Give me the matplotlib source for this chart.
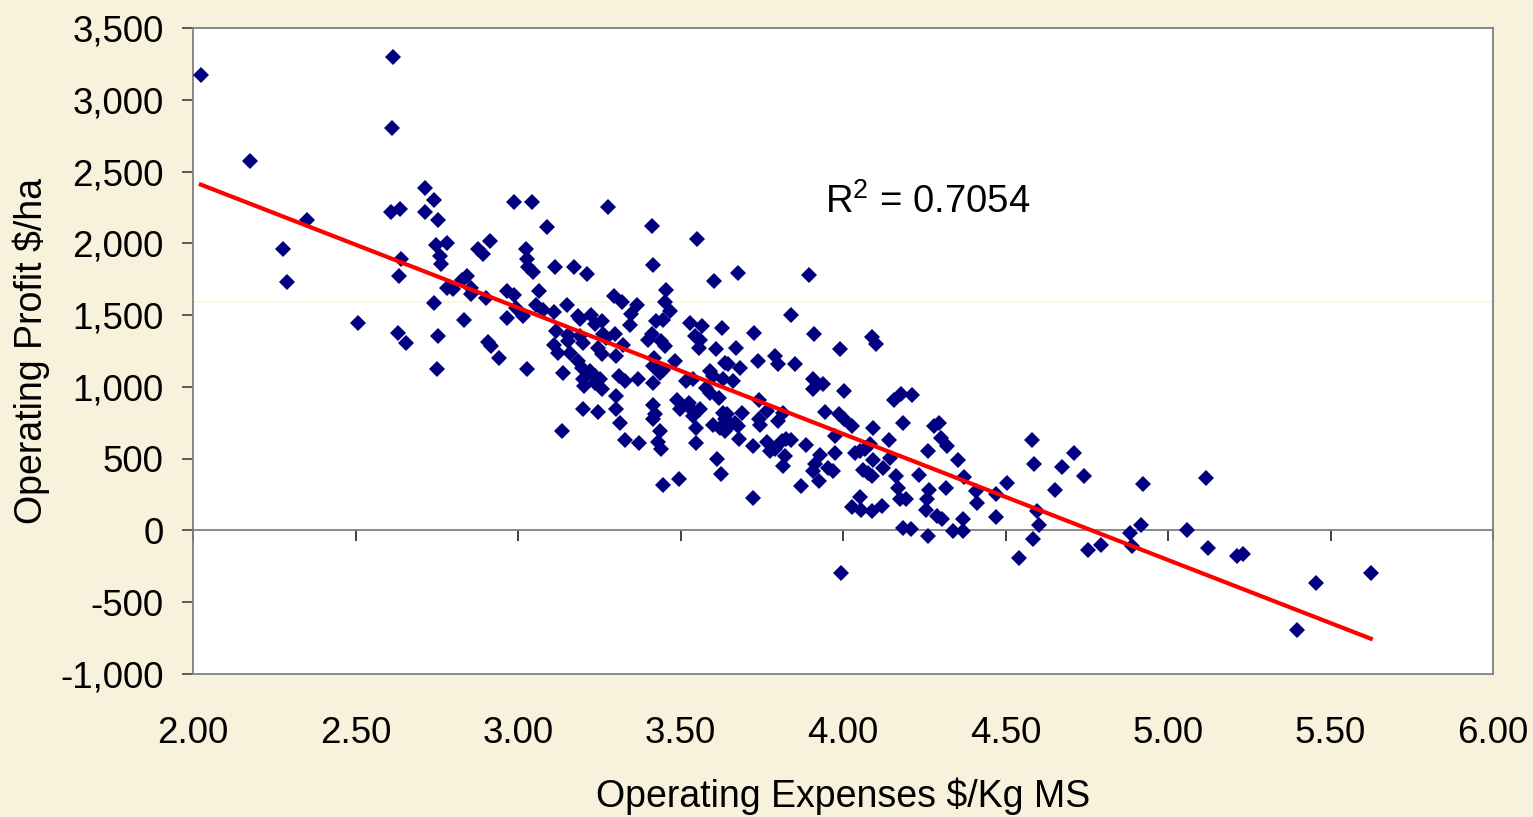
import numpy as np
import matplotlib
matplotlib.use("Agg")
import matplotlib.pyplot as plt
from matplotlib.ticker import FuncFormatter

plt.rcParams['font.family'] = ['Liberation Sans', 'DejaVu Sans']
plt.rcParams['mathtext.fontset'] = 'custom'
plt.rcParams['mathtext.rm'] = 'Liberation Sans'
plt.rcParams['mathtext.it'] = 'Liberation Sans:italic'

# operating expenses ($/kg MS) and operating profit ($/ha)
expenses = [
    2.024, 2.614, 2.611, 2.175, 2.351, 2.276, 2.290, 2.713, 2.742, 2.608,
    2.637, 2.713, 2.755, 2.748, 2.783, 2.759, 2.762, 2.639, 2.635, 2.877,
    2.893, 2.914, 2.842, 2.827, 2.781, 2.800, 2.855, 2.855, 2.903, 2.965,
    2.742, 2.834, 2.965, 2.509, 2.630, 2.655, 2.755, 2.909, 2.916, 2.943,
    2.750, 2.988, 3.042, 3.278, 3.090, 3.411, 3.551, 3.025, 3.029, 3.032,
    3.047, 3.115, 3.173, 3.213, 3.416, 3.677, 3.604, 2.988, 3.065, 3.296,
    3.319, 3.454, 3.452, 3.468, 3.365, 3.349, 2.995, 3.016, 3.055, 3.078,
    3.111, 3.152, 3.186, 3.191, 3.225, 3.237, 3.258, 3.345, 3.426, 3.445,
    3.529, 3.565, 3.628, 3.117, 3.155, 3.153, 3.191, 3.201, 3.262, 3.272,
    3.298, 3.324, 3.400, 3.411, 3.441, 3.452, 3.545, 3.560, 3.558, 3.609,
    3.671, 3.111, 3.124, 3.160, 3.186, 3.196, 3.247, 3.258, 3.303, 3.418,
    3.416, 3.437, 3.445, 3.483, 3.029, 3.137, 3.222, 3.237, 3.252, 3.201,
    3.203, 3.237, 3.258, 3.310, 3.329, 3.370, 3.414, 3.518, 3.539, 3.590,
    3.601, 3.637, 3.647, 3.632, 3.663, 3.579, 3.590, 3.619, 3.303, 3.488,
    3.498, 3.527, 3.539, 3.560, 3.416, 3.422, 3.302, 3.201, 3.247, 3.314,
    3.416, 3.134, 3.601, 3.622, 3.637, 3.652, 3.668, 3.678, 3.549, 3.437,
    3.329, 3.373, 3.431, 3.441, 3.446, 3.495, 3.539, 3.548, 3.611, 3.626,
    3.637, 3.680, 3.896, 3.840, 3.727, 3.912, 4.088, 4.102, 3.990, 3.737,
    3.791, 3.801, 3.853, 3.683, 3.909, 3.907, 3.938, 4.004, 3.740, 4.158,
    4.177, 4.211, 3.765, 3.816, 3.801, 3.690, 3.642, 3.743, 3.745, 3.945,
    3.987, 4.002, 4.028, 4.093, 4.184, 4.279, 4.295, 4.303, 4.319, 3.724,
    3.765, 3.775, 3.791, 3.811, 3.826, 3.841, 3.822, 3.816, 3.887, 3.928,
    3.914, 3.909, 3.925, 3.955, 3.970, 3.975, 3.975, 3.872, 3.724, 4.037,
    4.052, 4.068, 4.083, 4.093, 4.062, 4.077, 4.088, 4.122, 4.140, 4.145,
    4.163, 4.234, 4.261, 4.355, 4.317, 4.372, 4.409, 4.170, 4.052, 4.264,
    4.257, 3.993, 4.029, 4.054, 4.090, 4.121, 4.175, 4.195, 4.254, 4.184,
    4.208, 4.262, 4.288, 4.306, 4.339, 4.370, 4.368, 4.413, 4.471, 4.471,
    4.504, 4.540, 4.581, 4.588, 4.675, 4.711, 4.652, 4.742, 4.598, 4.604,
    4.586, 4.755, 4.793, 4.883, 4.888, 4.923, 4.916, 5.059, 5.116, 5.124,
    5.213, 5.232, 5.396, 5.455, 5.624, 3.632,
]
profit = [
    3176, 3296, 2804, 2572, 2161, 1962, 1729, 2382, 2300, 2217,
    2240, 2217, 2161, 1985, 1999, 1915, 1857, 1892, 1771, 1962,
    1929, 2013, 1771, 1748, 1690, 1683, 1690, 1650, 1620, 1667,
    1581, 1469, 1481, 1442, 1377, 1307, 1353, 1312, 1284, 1203,
    1126, 2286, 2286, 2252, 2112, 2119, 2027, 1964, 1894, 1836,
    1799, 1836, 1836, 1783, 1846, 1795, 1736, 1643, 1667, 1632,
    1593, 1678, 1590, 1532, 1567, 1511, 1551, 1493, 1567, 1534,
    1523, 1567, 1493, 1474, 1504, 1435, 1458, 1430, 1458, 1469,
    1446, 1423, 1411, 1388, 1358, 1318, 1353, 1307, 1365, 1342,
    1365, 1295, 1330, 1365, 1318, 1284, 1353, 1330, 1272, 1261,
    1272, 1295, 1237, 1237, 1179, 1133, 1272, 1226, 1214, 1203,
    1144, 1098, 1121, 1179, 1126, 1098, 1109, 1075, 1052, 1052,
    1005, 1029, 987, 1075, 1040, 1052, 1029, 1040, 1052, 1109,
    1075, 1168, 1156, 1052, 1040, 994, 959, 924, 936, 912,
    843, 889, 831, 843, 877, 808, 848, 843, 824, 750,
    773, 692, 738, 715, 773, 738, 750, 727, 715, 692,
    629, 611, 615, 564, 320, 360, 796, 606, 501, 395,
    692, 634, 1778, 1504, 1372, 1365, 1349, 1300, 1261, 1179,
    1214, 1156, 1156, 1133, 1052, 987, 1022, 970, 912, 912,
    947, 942, 831, 820, 761, 820, 808, 773, 738, 826,
    808, 773, 731, 715, 750, 727, 750, 646, 587, 587,
    615, 552, 569, 622, 634, 629, 517, 448, 592, 529,
    460, 413, 343, 437, 413, 657, 541, 313, 223, 541,
    552, 564, 599, 494, 420, 397, 378, 437, 627, 506,
    378, 383, 552, 494, 297, 371, 274, 297, 233, 285,
    222, -299, 165, 141, 134, 169, 221, 221, 139, 19,
    12, -40, 100, 81, -5, -5, 77, 193, 95, 251,
    332, -195, 627, 460, 441, 536, 279, 378, 134, 35,
    -58, -137, -102, -16, -109, 327, 37, 2, 362, -125,
    -179, -162, -694, -369, -295, 820,
]

x_ticks = [2.0, 2.5, 3.0, 3.5, 4.0, 4.5, 5.0, 5.5, 6.0]
y_ticks = [-1000, -500, 0, 500, 1000, 1500, 2000, 2500, 3000, 3500]
r2_label = "R$^2$ = 0.7054"

bg = '#F8F1DC'
fig = plt.figure(figsize=(15.33, 8.17), dpi=100, facecolor=bg)
ax = fig.add_axes([193 / 1533, 1 - 674 / 817, 1300 / 1533, 646 / 817])
ax.set_facecolor('white')
ax.set_xlim(x_ticks[0], x_ticks[-1])
ax.set_ylim(y_ticks[0], y_ticks[-1])

# faint stray line seen in the original rendering
ax.axhline(1590, color='#FBF4DC', lw=1.2, zorder=1)

ax.plot(expenses, profit, linestyle='none', marker='D', ms=7.8,
        color='#000080', mew=0, zorder=3)

# linear trend over the data range
coef = np.polyfit(expenses, profit, 1)
xs = np.array([min(expenses), max(expenses)])
ax.plot(xs, np.polyval(coef, xs), color='#FF0000', lw=3, zorder=4)

ax.text(3.945, 2290, r2_label, fontsize=27.5, va='center', ha='left')

for s in ax.spines.values():
    s.set_color('#808080')
    s.set_linewidth(1.3)

ax.set_yticks(y_ticks)
ax.yaxis.set_major_formatter(FuncFormatter(lambda v, p: f"{v:,.0f}"))
ax.tick_params(axis='y', direction='out', length=8, width=1.2,
               color='#404040', labelsize=26.5, pad=13)

ax.set_xticks(x_ticks)
ax.xaxis.set_major_formatter(FuncFormatter(lambda v, p: f"{v:.2f}"))
ax.tick_params(axis='x', length=0, labelsize=26.5, pad=30)

# horizontal axis crossing at zero, with its tick marks
zero_frac = (0 - y_ticks[0]) / (y_ticks[-1] - y_ticks[0])
sec = ax.secondary_xaxis(zero_frac)
sec.set_xticks(x_ticks)
sec.tick_params(axis='x', direction='out', length=8, width=1.2,
                color='#202020', labelbottom=False, labeltop=False)
sec.spines['bottom'].set_color('#808080')
sec.spines['bottom'].set_linewidth(1.3)

ax.set_xlabel('Operating Expenses $/Kg MS', fontsize=27, va='center')
ax.xaxis.set_label_coords(0.5, (674 - 796) / 646)
ax.set_ylabel('Operating Profit $/ha', fontsize=27, va='center')
ax.yaxis.set_label_coords((31 - 193) / 1300, 0.5)

fig.savefig('out.png', dpi=100, facecolor=bg)
